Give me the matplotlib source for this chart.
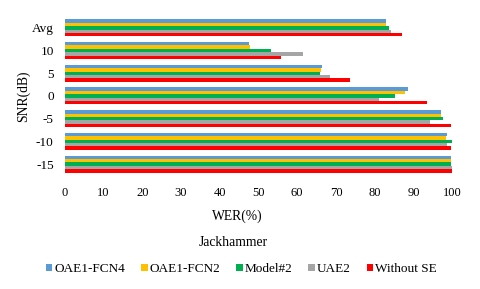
import numpy as np
import matplotlib
matplotlib.use('Agg')
import matplotlib.pyplot as plt

# WER(%) per SNR condition, Jackhammer noise
categories = ['-15', '-10', '-5', '0', '5', '10', 'Avg']
oae1_fcn4 = [99.7, 98.7, 97.1, 88.7, 66.4, 47.6, 82.9]
oae1_fcn2 = [99.7, 98.4, 97.2, 87.8, 66.1, 47.8, 82.8]
model2 = [99.8, 100.0, 97.6, 85.3, 65.9, 53.3, 83.7]
uae2 = [100.2, 98.7, 94.4, 81.0, 68.4, 61.6, 84.2]
without_se = [100.0, 99.8, 99.6, 93.6, 73.6, 55.9, 87.1]

series = [('OAE1-FCN4', oae1_fcn4, '#5B9BD5'),
          ('OAE1-FCN2', oae1_fcn2, '#FFC000'),
          ('Model#2', model2, '#00B050'),
          ('UAE2', uae2, '#A5A5A5'),
          ('Without SE', without_se, '#FF0000')]

plt.rcParams['font.family'] = ['Liberation Serif', 'DejaVu Serif']

fig = plt.figure(figsize=(4.8, 2.89), dpi=100)
ax = fig.add_axes([0.135, 0.393, 0.807, 0.55])

y = np.arange(len(categories))
h = 0.15
for i, (name, vals, col) in enumerate(series):
    ax.barh(y + (2 - i) * h, vals, height=h, color=col, label=name)

ax.set_xlim(0, 100)
ax.set_ylim(-0.5, 6.5)
ax.set_xticks(np.arange(0, 101, 10))
ax.set_yticks(y)
ax.set_yticklabels(categories)
ax.tick_params(axis='x', length=0, labelsize=9, pad=8)
ax.tick_params(axis='y', length=0, labelsize=9.5, pad=8)
for s in ax.spines.values():
    s.set_visible(False)

ax.set_xlabel('WER(%)', fontsize=9.8, va='center')
ax.xaxis.set_label_coords(0.446, -0.256)
ax.set_ylabel('SNR(dB)', fontsize=9.8, labelpad=1)

fig.text(0.485, 0.162, 'Jackhammer', ha='center', va='center', fontsize=9.8)
fig.legend(loc='center', bbox_to_anchor=(0.503, 0.068), ncol=5, frameon=False,
           fontsize=9.5, handlelength=0.5, handleheight=0.5,
           handletextpad=0.15, columnspacing=1.2)

fig.savefig('out.png', dpi=100)
